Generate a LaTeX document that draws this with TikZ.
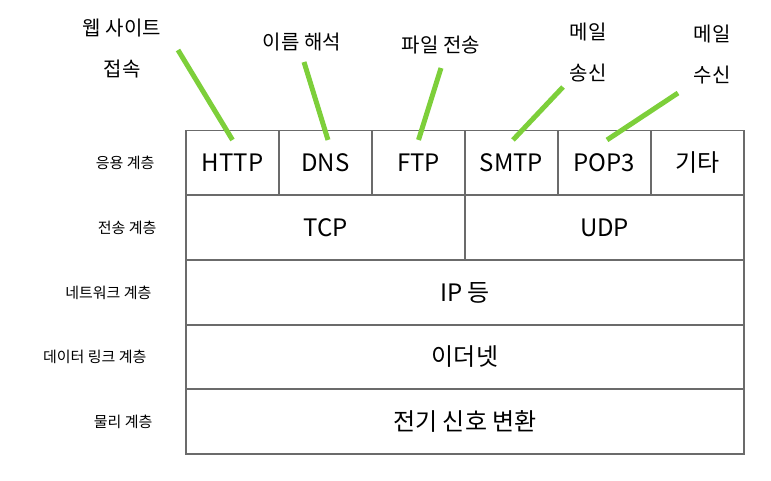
\documentclass[tikz,border=0pt]{standalone}
\usepackage{fontspec}
\setmainfont{Noto Sans CJK KR}
\usetikzlibrary{positioning}

\definecolor{linegray}{HTML}{6B6B6B}
\definecolor{markgreen}{HTML}{7DCF3A}

\tikzset{
  cell/.style={draw=linegray, line width=1.5pt, minimum height=64.6pt, inner sep=0pt, font=\fontsize{24}{28}\selectfont},
  layer/.style={anchor=east, font=\fontsize{15}{18}\selectfont},
  note/.style={align=center, font=\fontsize{20}{41}\selectfont},
  pointer/.style={markgreen, line width=5pt},
}

\begin{document}
\begin{tikzpicture}[x=1pt, y=-1pt]
\useasboundingbox (0,0) rectangle (771,480);

% Application layer cells
\node[cell, minimum width=93pt] (http) at (232.5,163) {HTTP};
\node[cell, minimum width=93pt] (dns)  at (325.5,163) {DNS};
\node[cell, minimum width=93pt] (ftp)  at (418.5,163) {FTP};
\node[cell, minimum width=93pt] (smtp) at (511.5,163) {SMTP};
\node[cell, minimum width=93pt] (pop)  at (604.5,163) {POP3};
\node[cell, minimum width=93pt] (etc)  at (697.5,163) {기타};

% Lower layers
\node[cell, minimum width=279pt] (tcp) at (325.5,227.5) {TCP};
\node[cell, minimum width=279pt] (udp) at (604.5,227.5) {UDP};
\node[cell, minimum width=558pt] (ip)  at (465,292.5) {IP 등};
\node[cell, minimum width=558pt] (eth) at (465,357) {이더넷};
\node[cell, minimum width=558pt] (phy) at (465,421.5) {전기 신호 변환};

% Layer names on the left
\node[layer] (lbl_app)  at (158,163)   {응용 계층};
\node[layer] (lbl_tr)   at (160,227.5) {전송 계층};
\node[layer] (lbl_net)  at (155,292.5) {네트워크 계층};
\node[layer] (lbl_link) at (150,357)   {데이터 링크 계층};
\node[layer] (lbl_phy)  at (156,421.5) {물리 계층};

% Protocol roles above
\node[note] (role_web)  at (122,49) {웹 사이트\\접속};
\node[note] (role_dns)  at (302,42) {이름 해석};
\node[note] (role_ftp)  at (441,45) {파일 전송};
\node[note] (role_send) at (588,52) {메일\\송신};
\node[note] (role_recv) at (712,55) {메일\\수신};

% Pointers (start just off each role label)
\coordinate (tip_web)  at (178,50);
\coordinate (tip_dns)  at (304,62);
\coordinate (tip_ftp)  at (441,68);
\coordinate (tip_send) at (563,87);
\coordinate (tip_recv) at (678,93);

\draw[pointer] (tip_web)  -- ([yshift=-10pt]http.north);
\draw[pointer] (tip_dns)  -- ([xshift=2.5pt, yshift=-10pt]dns.north);
\draw[pointer] (tip_ftp)  -- ([yshift=-10pt]ftp.north);
\draw[pointer] (tip_send) -- ([xshift=1.5pt, yshift=-10pt]smtp.north);
\draw[pointer] (tip_recv) -- ([xshift=2.5pt, yshift=-10pt]pop.north);

\end{tikzpicture}
\end{document}
